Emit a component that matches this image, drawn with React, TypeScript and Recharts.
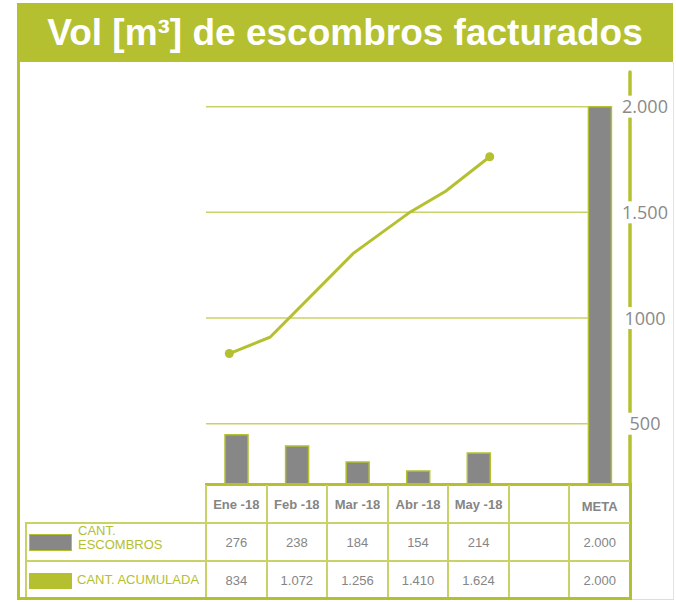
import React from 'react';
import { ComposedChart, Bar, Line, XAxis, YAxis, ReferenceLine } from 'recharts';

const categories = ['Ene -18', 'Feb -18', 'Mar -18', 'Abr -18', 'May -18', ' ', 'META'];
const escombros = [276, 238, 184, 154, 214, null, null];
const metaValues = [null, null, null, null, null, null, 2000];
const escombrosTable = ['276', '238', '184', '154', '214', '', '2.000'];
const acumuladaTable = ['834', '1.072', '1.256', '1.410', '1.624', '', '2.000'];
const headerLabels = ['Ene -18', 'Feb -18', 'Mar -18', 'Abr -18', 'May -18', '', 'META'];
const lineX = [-0.115, 0.557, 1.932, 2.868, 3.462, 4.184];
const lineY = [832, 909, 1306, 1501, 1601, 1763];
const rightTicks = [500, 1000, 1500, 2000];
const rightTickLabels = ['500', '1000', '1.500', '2.000'];
const gridValues = [500, 1000, 1500, 2000];

const GREEN = '#b4c030';
const LIGHT = '#c9d266';
const GRAY_BAR = '#878787';
const TEXT_GRAY = '#858585';

const barData = categories.map((c, i) => ({ name: c, esc: escombros[i], meta: metaValues[i] }));
const lineData = lineX.map((x, i) => ({ x, v: lineY[i] }));

const PLOT_LEFT = 206;
const PLOT_RIGHT = 630;
const COLW = (PLOT_RIGHT - PLOT_LEFT) / 7;

const RightTick = (props: any) => {
  const { x, y, payload } = props;
  const idx = rightTicks.indexOf(payload.value);
  const label = idx >= 0 ? rightTickLabels[idx] : String(payload.value);
  const w = label.length * 9.5 + 6;
  return (
    <g>
      <rect x={x - w / 2} y={y - 11} width={w} height={22} fill="#ffffff" />
      <text x={x} y={y} dy="0.36em" textAnchor="middle" fill="#8a8a8a" fontSize={18} fontFamily="'Open Sans', sans-serif">
        {label}
      </text>
    </g>
  );
};

const renderDot = (props: any) => {
  const { cx, cy, index } = props;
  if (index === 0 || index === lineData.length - 1) {
    return <circle key={`d${index}`} cx={cx} cy={cy} r={4.5} fill={GREEN} stroke="none" />;
  }
  return <g key={`d${index}`} />;
};

const abs = (left: number, top: number, width: number, height: number, bg: string): React.CSSProperties => ({
  position: 'absolute', left, top, width, height, background: bg,
});

export default function App() {
  const font = "'Liberation Sans', Arial, sans-serif";
  const colX = (i: number) => PLOT_LEFT + i * COLW;
  return (
    <div style={{ position: 'absolute', left: 0, top: 0, width: 676, height: 602, background: '#fff', overflow: 'hidden' }}>
      {/* title bar */}
      <div style={{ ...abs(17, 3, 656, 59, GREEN), display: 'flex', alignItems: 'center', justifyContent: 'center', color: '#fff', fontFamily: font, fontWeight: 'bold', fontSize: 37 }}>
        Vol [m³] de escombros facturados
      </div>
      {/* outer frame */}
      <div style={abs(17, 62, 3, 538, GREEN)} />
      <div style={abs(673, 62, 1, 538, '#e2e2e2')} />
      <div style={abs(632, 599, 42, 1, '#dfe3b8')} />

      <div style={{ position: 'absolute', left: 0, top: 0 }}>
        <ComposedChart width={676} height={602} data={barData} margin={{ top: 72, right: 6, bottom: 117, left: PLOT_LEFT }} barGap={-23}>
          <XAxis xAxisId="cat" dataKey="name" type="category" hide />
          <XAxis xAxisId="num" dataKey="x" type="number" domain={[-0.5, 6.5]} allowDataOverflow hide />
          <YAxis yAxisId="left" domain={[106.6, 1497.7]} allowDataOverflow hide />
          <YAxis
            yAxisId="right"
            orientation="right"
            width={40}
            domain={[210, 2164]}
            allowDataOverflow
            ticks={rightTicks}
            interval={0}
            tickLine={false}
            tickSize={0}
            tickMargin={15}
            axisLine={{ stroke: GREEN, strokeWidth: 3.5, strokeLinecap: 'round' }}
            tick={<RightTick />}
          />
          {gridValues.map((g) => (
            <ReferenceLine
              key={g}
              xAxisId="num"
              yAxisId="right"
              segment={[{ x: -0.5, y: g }, { x: 5.81, y: g }]}
              stroke={LIGHT}
              strokeWidth={1.5}
              ifOverflow="visible"
            />
          ))}
          <Bar xAxisId="cat" yAxisId="left" dataKey="esc" fill={GRAY_BAR} stroke={GREEN} strokeWidth={1.5} barSize={23} isAnimationActive={false} />
          <Bar xAxisId="cat" yAxisId="right" dataKey="meta" fill={GRAY_BAR} stroke={GREEN} strokeWidth={1.5} barSize={23} isAnimationActive={false} />
          <Line
            xAxisId="num"
            yAxisId="right"
            data={lineData}
            dataKey="v"
            type="linear"
            stroke={GREEN}
            strokeWidth={3}
            dot={renderDot}
            activeDot={false}
            isAnimationActive={false}
          />
        </ComposedChart>
      </div>

      {/* table */}
      {/* header top thick line */}
      <div style={abs(205, 483, 427, 3, GREEN)} />
      {/* vertical dividers */}
      {Array.from({ length: 7 }).map((_, i) => (
        <div key={`v${i}`} style={abs(Math.round(colX(i)) - 1, 485, 2, 114, LIGHT)} />
      ))}
      {/* right thick border */}
      <div style={abs(629, 483, 3, 117, GREEN)} />
      {/* row lines */}
      <div style={abs(25, 522, 605, 2, LIGHT)} />
      <div style={abs(25, 560, 605, 2, LIGHT)} />
      <div style={abs(25, 522, 2, 77, LIGHT)} />
      {/* bottom thick border */}
      <div style={abs(17, 597, 615, 3, GREEN)} />

      {/* header labels */}
      {headerLabels.map((h, i) => (
        <div key={`h${i}`} style={{ position: 'absolute', left: colX(i), top: 485, width: COLW, height: 38, display: 'flex', alignItems: 'center', justifyContent: 'center', fontFamily: font, fontWeight: 'bold', fontSize: 13, color: TEXT_GRAY, paddingTop: i === 6 ? 4 : 0, boxSizing: 'border-box' }}>
          {h}
        </div>
      ))}
      {/* row values */}
      {escombrosTable.map((t, i) => (
        <div key={`e${i}`} style={{ position: 'absolute', left: colX(i), top: 523, width: COLW, height: 38, display: 'flex', alignItems: 'center', justifyContent: 'center', fontFamily: font, fontSize: 13, color: TEXT_GRAY }}>
          {t}
        </div>
      ))}
      {acumuladaTable.map((t, i) => (
        <div key={`a${i}`} style={{ position: 'absolute', left: colX(i), top: 561, width: COLW, height: 38, display: 'flex', alignItems: 'center', justifyContent: 'center', fontFamily: font, fontSize: 13, color: TEXT_GRAY }}>
          {t}
        </div>
      ))}
      {/* legend swatches */}
      <div style={{ ...abs(29, 534, 43, 17, GRAY_BAR), border: `1.5px solid ${GREEN}`, boxSizing: 'border-box' }} />
      <div style={abs(29, 573, 43, 16, GREEN)} />
      <div style={{ position: 'absolute', left: 78, top: 524, fontFamily: font, fontSize: 13, lineHeight: '14px', color: GREEN }}>
        CANT.<br />ESCOMBROS
      </div>
      <div style={{ position: 'absolute', left: 77, top: 572, fontFamily: font, fontSize: 13, lineHeight: '16px', color: GREEN, whiteSpace: 'nowrap' }}>
        CANT. ACUMULADA
      </div>
    </div>
  );
}
